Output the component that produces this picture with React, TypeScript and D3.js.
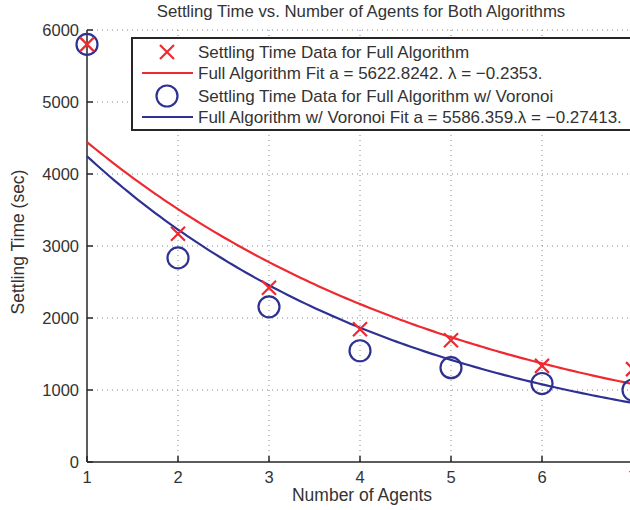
import * as d3 from "d3";

const agents = [1, 2, 3, 4, 5, 6, 7];
const fullTimes = [5800, 3170, 2420, 1845, 1690, 1335, 1290];
const voronoiTimes = [5800, 2835, 2155, 1545, 1310, 1090, 1000];
const xTicks = [1, 2, 3, 4, 5, 6, 7];
const yTicks = [0, 1000, 2000, 3000, 4000, 5000, 6000];
const fullFit = { a: 5622.8242, lambda: -0.2353 };
const voronoiFit = { a: 5586.359, lambda: -0.27413 };
const legendLabels = [
  "Settling Time Data for Full Algorithm",
  "Full Algorithm Fit a = 5622.8242. \u03bb = \u22120.2353.",
  "Settling Time Data for Full Algorithm w/ Voronoi",
  "Full Algorithm w/ Voronoi Fit a = 5586.359.\u03bb = \u22120.27413.",
];

const RED = "#ee2a30";
const BLUE = "#2e3192";
const TEXT = "#333333";
const FONT = "'Liberation Sans', Arial, sans-serif";

export default function App() {
  const width = 630;
  const height = 510;
  const left = 87;
  const right = 633;
  const top = 30;
  const bottom = 462;

  const x = d3.scaleLinear().domain([1, 7]).range([left, right]);
  const y = d3.scaleLinear().domain([0, 6000]).range([bottom, top]);

  const fitPoints = d3.range(1, 7.001, 0.05);
  const line = d3
    .line<number[]>()
    .x((d) => x(d[0]))
    .y((d) => y(d[1]));
  const fitPath = (f: { a: number; lambda: number }) =>
    line(fitPoints.map((t) => [t, f.a * Math.exp(f.lambda * t)])) ?? "";

  const cross = (cx: number, cy: number, s: number) =>
    `M${cx - s},${cy - s}L${cx + s},${cy + s}M${cx - s},${cy + s}L${cx + s},${cy - s}`;

  const legendRows = [52, 73, 96, 117];

  return (
    <div style={{ position: "fixed", left: 0, top: 0 }}>
      <svg width={width} height={height} style={{ display: "block", background: "#fff" }} fontFamily={FONT}>
        {/* grid */}
        <g stroke="#888" strokeWidth={1} strokeDasharray="1,4">
          {xTicks.slice(1).map((t) => (
            <line key={"gx" + t} x1={x(t)} x2={x(t)} y1={top} y2={bottom} />
          ))}
          {yTicks.slice(1).map((t) => (
            <line key={"gy" + t} x1={left} x2={right} y1={y(t)} y2={y(t)} />
          ))}
        </g>

        {/* axes */}
        <g stroke="#262626" strokeWidth={1.5}>
          <line x1={left} x2={left} y1={top} y2={bottom} />
          <line x1={left} x2={right} y1={bottom} y2={bottom} />
          {xTicks.map((t) => (
            <line key={"tx" + t} x1={x(t)} x2={x(t)} y1={bottom} y2={bottom - 6} />
          ))}
          {yTicks.map((t) => (
            <line key={"ty" + t} x1={left} x2={left + 6} y1={y(t)} y2={y(t)} />
          ))}
        </g>
        <g fill={TEXT} fontSize={16.5}>
          {xTicks.map((t) => (
            <text key={"lx" + t} x={x(t)} y={bottom + 21} textAnchor="middle">
              {t}
            </text>
          ))}
          {yTicks.map((t) => (
            <text key={"ly" + t} x={left - 8} y={y(t) + 6} textAnchor="end">
              {t}
            </text>
          ))}
        </g>

        {/* fits */}
        <path d={fitPath(fullFit)} fill="none" stroke={RED} strokeWidth={2.2} />
        <path d={fitPath(voronoiFit)} fill="none" stroke={BLUE} strokeWidth={2.2} />

        {/* data */}
        {agents.map((a, i) => (
          <circle key={"c" + a} cx={x(a)} cy={y(voronoiTimes[i])} r={10.5} fill="none" stroke={BLUE} strokeWidth={2.2} />
        ))}
        {agents.map((a, i) => (
          <path key={"x" + a} d={cross(x(a), y(fullTimes[i]), 7)} stroke={RED} strokeWidth={2.2} fill="none" />
        ))}

        {/* title and labels */}
        <text x={361} y={17} textAnchor="middle" fontSize={16.8} fill={TEXT}>
          Settling Time vs. Number of Agents for Both Algorithms
        </text>
        <text x={362} y={501} textAnchor="middle" fontSize={17.5} fill={TEXT}>
          Number of Agents
        </text>
        <text transform={`translate(24,${242}) rotate(-90)`} textAnchor="middle" fontSize={17.5} fill={TEXT}>
          Settling Time (sec)
        </text>

        {/* legend */}
        <rect x={132} y={38} width={520} height={92} fill="#fff" stroke="#262626" strokeWidth={2} />
        <path d={cross(167, legendRows[0], 7)} stroke={RED} strokeWidth={2.2} />
        <line x1={142} x2={193} y1={legendRows[1]} y2={legendRows[1]} stroke={RED} strokeWidth={2.2} />
        <circle cx={167} cy={legendRows[2]} r={10.5} fill="none" stroke={BLUE} strokeWidth={2.2} />
        <line x1={142} x2={193} y1={legendRows[3]} y2={legendRows[3]} stroke={BLUE} strokeWidth={2.2} />
        <g fontSize={17} fill={TEXT}>
          {legendLabels.map((l, i) => (
            <text key={l} x={198} y={legendRows[i] + 6}>
              {l}
            </text>
          ))}
        </g>
      </svg>
    </div>
  );
}
